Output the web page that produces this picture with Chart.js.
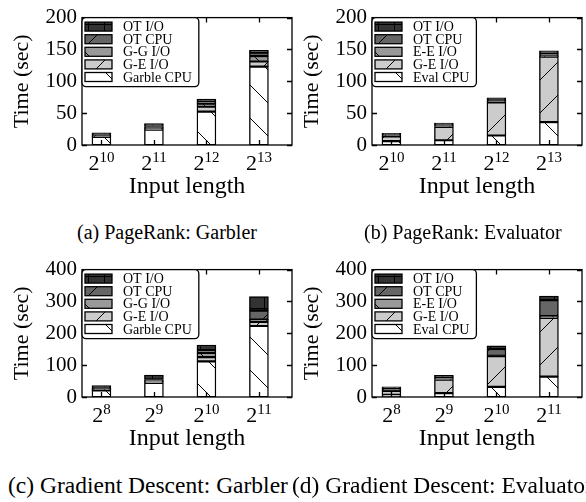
<!DOCTYPE html>
<html>
<head>
<meta charset="utf-8">
<script src="https://cdn.jsdelivr.net/npm/chart.js@4.4.0/dist/chart.umd.min.js"></script>
<style>
  body { margin: 0; width: 586px; height: 502px; overflow: hidden; background: #fff; position: relative; font-family: 'Liberation Serif', serif; }
  canvas { position: absolute; }
  .cap { position: absolute; line-height: 1; white-space: nowrap; color: #000; }
  .top { font-size: 20px; top: 222px; }
  .bot { font-size: 23.5px; top: 474px; }
</style>
</head>
<body>
<canvas id="pa" width="296" height="204" style="left:0;top:0"></canvas>
<canvas id="pb" width="296" height="204" style="left:290px;top:0"></canvas>
<canvas id="pc" width="296" height="204" style="left:0;top:252px"></canvas>
<canvas id="pd" width="296" height="204" style="left:290px;top:252px"></canvas>
<div class="cap top" style="left:77px">(a) PageRank: Garbler</div>
<div class="cap top" style="left:364px">(b) PageRank: Evaluator</div>
<div class="cap bot" style="left:8px">(c) Gradient Descent: Garbler</div>
<div class="cap bot" style="left:292px">(d) Gradient Descent: Evaluator</div>
<script>
const seriesGarbler = ['Garble CPU', 'G-E I/O', 'G-G I/O', 'OT CPU', 'OT I/O'];
const seriesEvaluator = ['Eval CPU', 'G-E I/O', 'E-E I/O', 'OT CPU', 'OT I/O'];
const pageRankLengths = ['2^10', '2^11', '2^12', '2^13'];
const gradientLengths = ['2^8', '2^9', '2^10', '2^11'];
const pageRankTicks = [0, 50, 100, 150, 200];
const gradientTicks = [0, 100, 200, 300, 400];

// (a) PageRank: Garbler
const prGarbleCpu = [12.5, 24, 52.5, 123];
const prGarblerGeIo = [1, 1.5, 7.5, 8];
const prGarblerGgIo = [0.5, 1.5, 5, 8.5];
const prGarblerOtCpu = [1, 2, 3, 5.5];
const prGarblerOtIo = [4, 4.5, 4, 3.5];

// (b) PageRank: Evaluator
const prEvalCpu = [6, 7.5, 15, 36];
const prEvaluatorGeIo = [7.5, 21, 52, 102.5];
const prEvaluatorEeIo = [0.5, 0.5, 0.5, 1];
const prEvaluatorOtCpu = [1.5, 2, 3, 4];
const prEvaluatorOtIo = [3, 3.5, 3.5, 4.5];

// (c) Gradient Descent: Garbler
const gdGarbleCpu = [21, 44, 112, 223];
const gdGarblerGeIo = [2, 3, 13, 13];
const gdGarblerGgIo = [1.5, 3, 13, 7];
const gdGarblerOtCpu = [2.5, 5, 9, 28];
const gdGarblerOtIo = [9, 14, 16, 44];

// (d) Gradient Descent: Evaluator
const gdEvalCpu = [7, 12, 32, 64];
const gdEvaluatorGeIo = [12, 42, 96, 184];
const gdEvaluatorEeIo = [0.5, 1, 1.5, 6];
const gdEvaluatorOtCpu = [6.5, 7, 21, 50];
const gdEvaluatorOtIo = [6, 6, 10, 13];

const FONT = "'Liberation Serif', serif";

function hatch(bg, kind) {
  const s = kind === '+' ? 16 : 33;
  const c = document.createElement('canvas');
  c.width = c.height = s;
  const g = c.getContext('2d');
  g.fillStyle = bg;
  g.fillRect(0, 0, s, s);
  g.strokeStyle = '#000';
  g.lineWidth = 1;
  g.beginPath();
  if (kind === '+') {
    g.moveTo(8.5, 0); g.lineTo(8.5, s);
    g.moveTo(0, 8.5); g.lineTo(s, 8.5);
  } else {
    for (let k = -1; k <= 1; k++) {
      if (kind === '\\') { g.moveTo(k * s - 1, -1); g.lineTo(k * s + s + 1, s + 1); }
      else { g.moveTo(k * s - 1, s + 1); g.lineTo(k * s + s + 1, -1); }
    }
  }
  g.stroke();
  return g.createPattern(c, 'repeat');
}

// bottom to top
const fills = [
  hatch('#ffffff', '\\'),
  hatch('#cccccc', '/'),
  hatch('#999999', '\\'),
  hatch('#666666', '/'),
  hatch('#333333', '+')
];

const panelPlugin = {
  id: 'panel',
  afterDatasetsDraw(chart) {
    const { ctx, chartArea: a, scales: { x, y } } = chart;
    const opts = chart.options.plugins.panel;
    ctx.save();
    ctx.strokeStyle = '#000';
    ctx.lineWidth = 1.3;
    ctx.strokeRect(a.left, a.top, a.right - a.left, a.bottom - a.top);
    ctx.beginPath();
    y.ticks.forEach(t => {
      const py = Math.round(y.getPixelForValue(t.value)) + 0.5;
      ctx.moveTo(a.left, py); ctx.lineTo(a.left + 5, py);
      ctx.moveTo(a.right, py); ctx.lineTo(a.right - 5, py);
    });
    x.ticks.forEach(t => {
      const px = Math.round(x.getPixelForValue(t.value)) + 0.5;
      ctx.moveTo(px, a.bottom); ctx.lineTo(px, a.bottom - 5);
      ctx.moveTo(px, a.top); ctx.lineTo(px, a.top + 5);
    });
    ctx.stroke();

    // x tick labels with superscript exponents
    ctx.fillStyle = '#000';
    ctx.textBaseline = 'alphabetic';
    ctx.textAlign = 'left';
    opts.labels.forEach((lab, i) => {
      const [base, exp] = lab.split('^');
      const cx = x.getPixelForValue(i);
      ctx.font = '22px ' + FONT;
      const wb = ctx.measureText(base).width;
      ctx.font = '15px ' + FONT;
      const we = ctx.measureText(exp).width;
      const sx = cx - (wb + we) / 2;
      ctx.font = '22px ' + FONT;
      ctx.fillText(base, sx, a.bottom + 25);
      ctx.font = '15px ' + FONT;
      ctx.fillText(exp, sx + wb, a.bottom + 17);
    });

    // legend box, top entry first
    const sets = chart.data.datasets.slice().reverse();
    ctx.font = '14px ' + FONT;
    const tw = Math.max(...sets.map(d => ctx.measureText(d.label).width));
    const lx = a.left, ly = a.top, lw = 41 + tw + 7, lh = 69, r = 4;
    ctx.fillStyle = '#fff';
    ctx.beginPath();
    ctx.moveTo(lx + r, ly);
    ctx.arcTo(lx + lw, ly, lx + lw, ly + lh, r);
    ctx.arcTo(lx + lw, ly + lh, lx, ly + lh, r);
    ctx.arcTo(lx, ly + lh, lx, ly, r);
    ctx.arcTo(lx, ly, lx + lw, ly, r);
    ctx.closePath();
    ctx.fill();
    ctx.lineWidth = 1.3;
    ctx.stroke();
    sets.forEach((d, i) => {
      const cy = ly + 9 + i * 12.6;
      ctx.fillStyle = d.backgroundColor;
      ctx.fillRect(lx + 3, cy - 4.5, 27, 9);
      ctx.lineWidth = 1.3;
      ctx.strokeRect(lx + 3, cy - 4.5, 27, 9);
      ctx.fillStyle = '#000';
      ctx.textBaseline = 'middle';
      ctx.fillText(d.label, lx + 41, cy + 1);
    });
    ctx.restore();
  }
};

function makePanel(id, names, values, labels, ticks) {
  const datasets = names.map((name, k) => ({
    label: name,
    data: values[k].map((v, i) => ({ x: i, y: v })),
    backgroundColor: fills[k],
    borderColor: '#000',
    borderWidth: 1.4,
    borderSkipped: false,
    barThickness: 19
  }));
  new Chart(document.getElementById(id), {
    type: 'bar',
    data: { datasets },
    plugins: [panelPlugin],
    options: {
      responsive: false,
      animation: false,
      layout: { padding: { top: 11, right: 4, left: 0, bottom: 0 } },
      plugins: { legend: { display: false }, tooltip: { enabled: false }, panel: { labels } },
      scales: {
        x: {
          type: 'linear', min: -0.37, max: 3.63, offset: false, stacked: true,
          grid: { display: false, drawTicks: false },
          border: { display: false },
          ticks: { display: false },
          afterBuildTicks: s => { s.ticks = labels.map((_, i) => ({ value: i })); },
          afterFit: s => { s.height = 59; },
          title: { display: true, text: 'Input length', color: '#000', font: { family: FONT, size: 24 }, padding: { top: 0, bottom: 2.6 } }
        },
        y: {
          stacked: true, min: ticks[0], max: ticks[ticks.length - 1],
          grid: { display: false, drawTicks: false },
          border: { display: false },
          afterBuildTicks: s => { s.ticks = ticks.map(v => ({ value: v })); },
          ticks: { padding: 5, color: '#000', font: { family: FONT, size: 21 } },
          afterFit: s => { s.width = 82; },
          title: { display: true, text: 'Time (sec)', color: '#000', font: { family: FONT, size: 22 }, padding: { top: 9, bottom: 0 } }
        }
      }
    }
  });
}

makePanel('pa', seriesGarbler,
  [prGarbleCpu, prGarblerGeIo, prGarblerGgIo, prGarblerOtCpu, prGarblerOtIo], pageRankLengths, pageRankTicks);
makePanel('pb', seriesEvaluator,
  [prEvalCpu, prEvaluatorGeIo, prEvaluatorEeIo, prEvaluatorOtCpu, prEvaluatorOtIo], pageRankLengths, pageRankTicks);
makePanel('pc', seriesGarbler,
  [gdGarbleCpu, gdGarblerGeIo, gdGarblerGgIo, gdGarblerOtCpu, gdGarblerOtIo], gradientLengths, gradientTicks);
makePanel('pd', seriesEvaluator,
  [gdEvalCpu, gdEvaluatorGeIo, gdEvaluatorEeIo, gdEvaluatorOtCpu, gdEvaluatorOtIo], gradientLengths, gradientTicks);
</script>
</body>
</html>
